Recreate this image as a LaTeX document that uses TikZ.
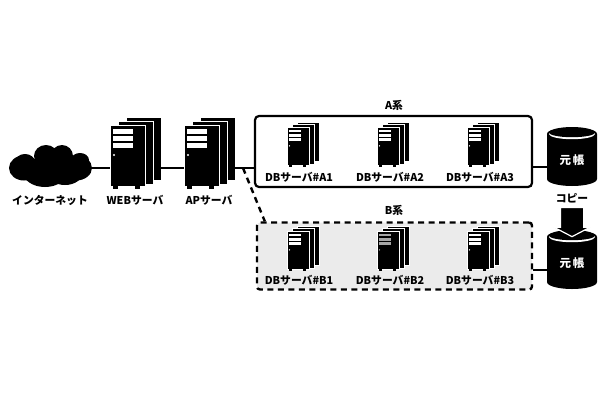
\documentclass[tikz,border=0pt]{standalone}
\usepackage{fontspec}
\setmainfont{Noto Sans CJK JP}
\usetikzlibrary{shapes.arrows}
\tikzset{
	lbl/.style={font=\fontsize{10.8}{12}\selectfont\bfseries, inner sep=0pt},
	link/.style={line width=2.2pt},
	linkdash/.style={line width=2.4pt, dash pattern=on 6pt off 4.5pt},
	sheet/.style={fill=black, draw=white, line width=0.35pt},
	pics/srv/.style={code={
		\path[sheet] (16,-8) rectangle (51,55);
		\path[sheet] (8,-4) rectangle (43,59);
		\path[sheet] (0,0) rectangle (35,61);
		\fill (3,61) rectangle (8,64);
		\fill (25,61) rectangle (30,64);
		\foreach \bary in {4,11,18}
			\fill[#1] (2.5,\bary) rectangle (23,\bary+4.6);
		\fill[#1] (4,30) circle (1.1);
		\coordinate (-in) at (0,43);
		\coordinate (-out) at (51,43);
	}},
	pics/motocho/.style={code={
		\fill (-25,7) -- (-25,52) arc[start angle=180, end angle=0, x radius=25, y radius=7]
			-- (25,7) arc[start angle=0, end angle=-180, x radius=25, y radius=7] -- cycle;
		\fill[white] (0,7) ellipse [x radius=23, y radius=5.2];
		\fill (0,5.6) ellipse [x radius=23, y radius=4.6];
		\node[lbl, text=white, font=\fontsize{11.5}{12}\selectfont\bfseries] (-txt) at (0,33) {元\,帳};
		\coordinate (-in) at (-25,40);
	}},
}

\begin{document}
\begin{tikzpicture}[x=1pt, y=-1pt]
	\useasboundingbox (0,0) rectangle (610,400);
	
	\node[lbl] (laba) at (394,105) {A系};
	\node[lbl] (labb) at (394,210) {B系};
	\node[lbl] (labcopy) at (572,198) {コピー};
	
	\node[draw, link, rounded corners=4pt, minimum width=277pt, minimum height=71pt] (boxa) at (393.5,151.5) {};
	\node[draw, fill=black!8, linkdash, rounded corners=3pt, minimum width=275pt, minimum height=67pt] (boxb) at (394.5,256) {};
	
	\pic (web) at (110,125) {srv=white};
	\pic (ap) at (184,125) {srv=white};
	\node[lbl] (labweb) at (135,200) {WEBサーバ};
	\node[lbl] (labap) at (209,200) {APサーバ};
	
	\pic[scale=0.63] (dba1) at (287,127) {srv=white};
	\pic[scale=0.63] (dba2) at (377,127) {srv=white};
	\pic[scale=0.63] (dba3) at (467,127) {srv=white};
	\node[lbl] (lba1) at (299,177) {DBサーバ\#A1};
	\node[lbl] (lba2) at (390,177) {DBサーバ\#A2};
	\node[lbl] (lba3) at (480,177) {DBサーバ\#A3};
	
	\pic[scale=0.63] (dbb1) at (287,231) {srv=white};
	\pic[scale=0.63] (dbb2) at (377,231) {srv=black!35};
	\pic[scale=0.63] (dbb3) at (467,231) {srv=white};
	\node[lbl] (lbb1) at (299,280) {DBサーバ\#B1};
	\node[lbl] (lbb2) at (390,280) {DBサーバ\#B2};
	\node[lbl] (lbb3) at (480,280) {DBサーバ\#B3};
	
	\pic (motoa) at (572,127) {motocho};
	\pic (motob) at (572,230) {motocho};
	
	\fill (24,168) ellipse [x radius=15, y radius=12.5];
	\fill (76,168) ellipse [x radius=16, y radius=12.5];
	\fill (45,172) ellipse [x radius=22, y radius=15];
	\fill (65,172) ellipse [x radius=18, y radius=13];
	\fill (46,156) ellipse [x radius=12, y radius=11];
	\fill (62,156) ellipse [x radius=11, y radius=11];
	\fill (25,162) ellipse [x radius=10, y radius=8];
	\fill (80,160) ellipse [x radius=9, y radius=7];
	\coordinate (net) at (88,168);
	\node[lbl] (labnet) at (50,200) {インターネット};
	
	\coordinate (fork) at (243,168);
	\draw[link] (net) -- (web-in);
	\draw[link] (web-out) -- (ap-in);
	\draw[link] (ap-out) -- (ap-out -| boxa.west);
	\draw[linkdash] (fork) -- ([xshift=9pt]boxb.north west);
	\draw[link] (boxa.east |- motoa-in) -- (motoa-in);
	\draw[link] (boxb.east |- motob-in) -- (motob-in);
	
	\node[single arrow, fill=black, draw=white, line width=1.2pt, shape border rotate=270, inner sep=11pt, minimum height=28pt, single arrow head extend=6.5pt, single arrow tip angle=125] (copy) at (572,219) {};
\end{tikzpicture}
\end{document}
